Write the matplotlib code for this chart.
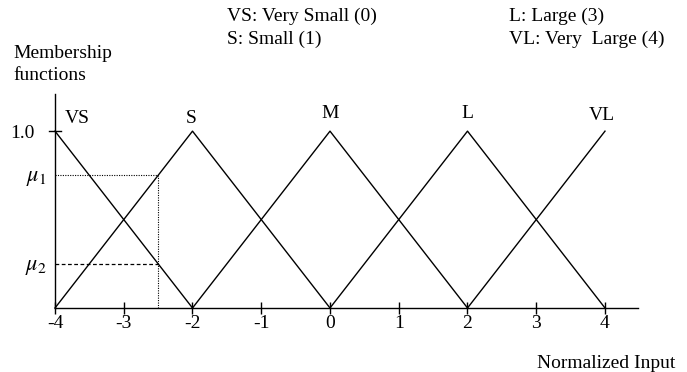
import matplotlib
matplotlib.use("Agg")
import matplotlib.pyplot as plt
from matplotlib.transforms import ScaledTranslation

plt.rcParams['font.family'] = ['Liberation Serif', 'DejaVu Serif']
plt.rcParams['mathtext.fontset'] = 'stix'

# Membership function definitions (triangular)
set_names = ["VS", "S", "M", "L", "VL"]
set_centers = [-4, -2, 0, 2, 4]
half_width = 2
x_min, x_max = -4, 4
tick_values = [-4, -3, -2, -1, 0, 1, 2, 3, 4]
legend_left = ["VS: Very Small (0)", "S: Small (1)"]
legend_right = ["L: Large (3)", "VL: Very  Large (4)"]
input_x = -2.5
mu1 = 0.75
mu2 = 0.25

FS = 14

fig = plt.figure(figsize=(6.87, 3.72), dpi=100)
ax = fig.add_axes([55/687, 64/372, 583/687, 214/372])
ax.set_xlim(-4, 4.48)
ax.set_ylim(0, 1.21)

for name, c in zip(set_names, set_centers):
    xs = [max(c - half_width, x_min), c, min(c + half_width, x_max)]
    ys = [1 - abs(x - c) / half_width for x in xs]
    ax.plot(xs, ys, color='black', lw=1.0, clip_on=False)

# Label positions
label_pos = {"VS": (-3.68, 1.07), "S": (-2.02, 1.07), "M": (0.0, 1.10),
             "L": (2.0, 1.10), "VL": (3.95, 1.09)}
for name in set_names:
    x, y = label_pos[name]
    ax.text(x, y, name, ha='center', va='center', fontsize=FS)

# mu lines
ax.plot([x_min, input_x], [mu1, mu1], color='black', lw=0.8, ls=(0, (1, 1.2)))
ax.plot([input_x, input_x], [0, mu1], color='black', lw=0.8, ls=(0, (1, 1.2)))
ax.plot([x_min, input_x], [mu2, mu2], color='black', lw=0.9, ls=(0, (3, 2)))

for s in ['top', 'right']:
    ax.spines[s].set_visible(False)
for s in ['left', 'bottom']:
    ax.spines[s].set_linewidth(1.0)

ax.set_xticks(tick_values)
ax.set_xticklabels([str(t) for t in tick_values], fontsize=FS)
ax.tick_params(axis='x', direction='inout', length=8, width=1.0, pad=1)
ax.set_yticks([mu2, mu1, 1.0])
ax.set_yticklabels([r'$\mu_2$', r'$\mu_1$', '1.0'], fontsize=FS)
ax.tick_params(axis='y', direction='inout', length=0, pad=6)
ylabels = ax.yaxis.get_ticklabels()
ylabels[0].set_fontsize(16)
ylabels[1].set_fontsize(16)
ylabels[2].set_transform(ylabels[2].get_transform() + ScaledTranslation(-9/72, 0, fig.dpi_scale_trans))
ax.plot([-4.09, -3.91], [1.0, 1.0], color='black', lw=1.0, clip_on=False)

fig.text(13/687, 1 - 54/372, "Membership", ha='left', va='center', fontsize=FS)
fig.text(13/687, 1 - 76/372, "functions", ha='left', va='center', fontsize=FS)
fig.text(227/687, 1 - 16/372, legend_left[0], ha='left', va='center', fontsize=FS)
fig.text(227/687, 1 - 39/372, legend_left[1], ha='left', va='center', fontsize=FS)
fig.text(509/687, 1 - 16/372, legend_right[0], ha='left', va='center', fontsize=FS)
fig.text(509/687, 1 - 39/372, legend_right[1], ha='left', va='center', fontsize=FS)
fig.text(537/687, 1 - 363/372, "Normalized Input", ha='left', va='center', fontsize=FS)

fig.savefig("out.png", dpi=100)
